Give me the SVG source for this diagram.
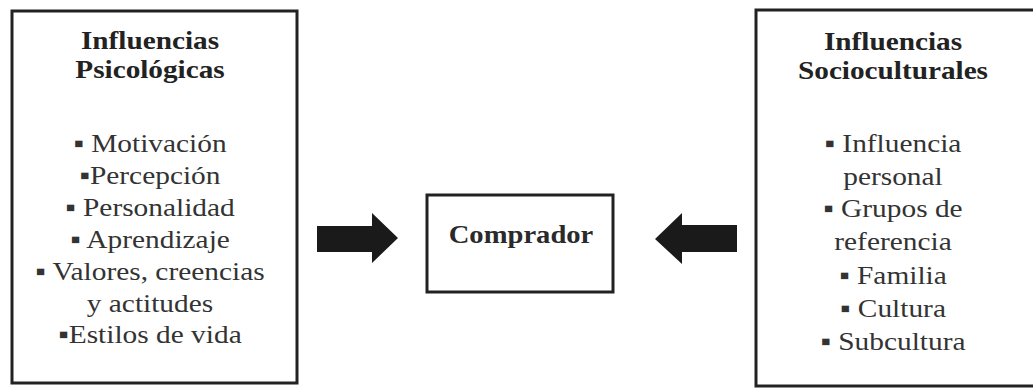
<svg xmlns="http://www.w3.org/2000/svg" width="1033" height="390" viewBox="0 0 1033 390">
<style>
.box{fill:#fff;stroke:#222;stroke-width:3}
.t{font-family:"Liberation Serif","Times New Roman",serif;fill:#333;text-anchor:middle}
.h{font-size:25px;font-weight:bold;fill:#222}
.i{font-size:26px}
.c{font-size:26px;font-weight:bold;fill:#2a2a2a}
.arr{fill:#1a1a1a}
</style>
<rect width="1033" height="390" fill="#fff"/>
<g id="psicologicas">
<rect class="box" x="12" y="11" width="285" height="372"/>
<g transform="translate(150 0) scale(1.17 1)">
<text class="t h" x="0" y="49">Influencias</text>
<text class="t h" x="0" y="78">Psicológicas</text>
</g>
<g transform="translate(150 0) scale(1.13 1)">
<text class="t i" x="0" y="152">▪ Motivación</text>
<text class="t i" x="0" y="184">▪Percepción</text>
<text class="t i" x="0" y="216">▪ Personalidad</text>
<text class="t i" x="0" y="248">▪ Aprendizaje</text>
<text class="t i" x="0" y="280">▪ Valores, creencias</text>
<text class="t i" x="0" y="312">y actitudes</text>
<text class="t i" x="0" y="343">▪Estilos de vida</text>
</g>
</g>
<g id="comprador">
<rect class="box" x="427" y="195" width="186" height="97"/>
<text class="t c" x="0" y="243" transform="translate(521 0) scale(1.1 1)">Comprador</text>
</g>
<g id="socioculturales">
<rect class="box" x="756" y="10" width="290" height="376"/>
<g transform="translate(893 0) scale(1.17 1)">
<text class="t h" x="0" y="50">Influencias</text>
<text class="t h" x="0" y="79">Socioculturales</text>
</g>
<g transform="translate(893 0) scale(1.13 1)">
<text class="t i" x="0" y="152">▪ Influencia</text>
<text class="t i" x="0" y="185">personal</text>
<text class="t i" x="0" y="217">▪ Grupos de</text>
<text class="t i" x="0" y="250">referencia</text>
<text class="t i" x="0" y="284">▪ Familia</text>
<text class="t i" x="0" y="317">▪ Cultura</text>
<text class="t i" x="0" y="350">▪ Subcultura</text>
</g>
</g>
<g id="connectors">
<polygon class="arr" points="317,226 372,226 372,213 398,238 372,263 372,252 317,252"/>
<polygon class="arr" points="737,225 682,225 682,213 655,239 682,264 682,252 737,252"/>
</g>
</svg>
